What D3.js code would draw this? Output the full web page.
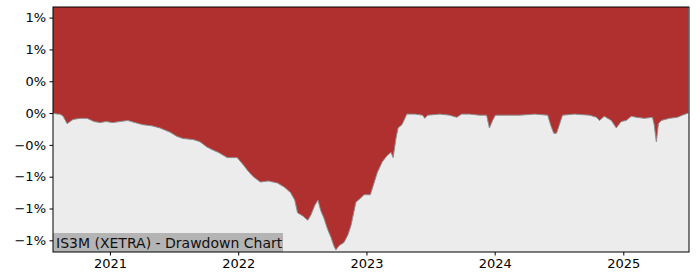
<!DOCTYPE html>
<html lang="en">
<head>
    <meta charset="UTF-8" />
    <title>IS3M Drawdown</title>
    <script src="https://d3js.org/d3.v7.min.js"></script>
    <style>
        body { margin: 0; background: #fff; }
        text { font-family: "DejaVu Sans", sans-serif; }
    </style>
</head>
<body>
<script>
    var w = 700;
    var h = 280;
    var margin = { top: 7, right: 11, bottom: 28, left: 53 };

    // drawdown series
    var dates = [
        "2020-07-23", "2020-08-04", "2020-08-12", "2020-08-21", "2020-09-01", "2020-09-18", "2020-10-08", "2020-10-28",
        "2020-11-17", "2020-12-04", "2020-12-21", "2021-01-09", "2021-01-29", "2021-02-21", "2021-03-13", "2021-04-05",
        "2021-04-30", "2021-05-23", "2021-06-21", "2021-07-11", "2021-07-28", "2021-08-26", "2021-09-14", "2021-10-04",
        "2021-10-22", "2021-11-05", "2021-12-01", "2021-12-29", "2022-01-16", "2022-01-30", "2022-02-13", "2022-03-05",
        "2022-03-28", "2022-04-23", "2022-05-13", "2022-05-30", "2022-06-11", "2022-06-19", "2022-07-04", "2022-07-18",
        "2022-07-27", "2022-08-07", "2022-08-16", "2022-08-24", "2022-09-02", "2022-09-13", "2022-09-22", "2022-09-30",
        "2022-10-06", "2022-10-15", "2022-10-29", "2022-11-09", "2022-11-18", "2022-12-02", "2022-12-16", "2022-12-25",
        "2023-01-12", "2023-02-01", "2023-02-15", "2023-03-01", "2023-03-12", "2023-03-18", "2023-03-26", "2023-04-01",
        "2023-04-12", "2023-04-26", "2023-05-19", "2023-06-10", "2023-06-16", "2023-06-24", "2023-07-29", "2023-08-26",
        "2023-09-15", "2023-09-29", "2023-10-21", "2023-11-19", "2023-12-09", "2023-12-17", "2023-12-26", "2024-01-03",
        "2024-01-29", "2024-03-12", "2024-04-24", "2024-05-31", "2024-06-08", "2024-06-17", "2024-06-25", "2024-07-04",
        "2024-07-12", "2024-08-15", "2024-09-27", "2024-10-17", "2024-10-25", "2024-11-08", "2024-11-28", "2024-12-12",
        "2024-12-26", "2025-01-09", "2025-01-24", "2025-02-07", "2025-03-02", "2025-03-25", "2025-03-30", "2025-04-05",
        "2025-04-11", "2025-04-19", "2025-05-12", "2025-06-04", "2025-06-18", "2025-07-05"
    ];
    var drawdown = [
        0.00, -0.01, -0.01, -0.03, -0.10, -0.06, -0.05, -0.05,
        -0.08, -0.09, -0.08, -0.09, -0.08, -0.07, -0.09, -0.11,
        -0.12, -0.14, -0.18, -0.22, -0.24, -0.25, -0.27, -0.32,
        -0.35, -0.37, -0.42, -0.42, -0.49, -0.55, -0.60, -0.65,
        -0.64, -0.66, -0.70, -0.75, -0.82, -0.94, -0.97, -1.01,
        -0.96, -0.87, -0.82, -0.92, -0.99, -1.10, -1.17, -1.25,
        -1.29, -1.25, -1.22, -1.15, -1.06, -0.84, -0.80, -0.77,
        -0.77, -0.56, -0.46, -0.40, -0.37, -0.42, -0.24, -0.14,
        -0.11, -0.01, -0.01, -0.02, -0.05, -0.02, -0.01, -0.02,
        -0.04, -0.01, -0.01, -0.02, -0.02, -0.14, -0.07, -0.02,
        -0.02, -0.02, -0.01, -0.02, -0.11, -0.19, -0.19, -0.10,
        -0.02, -0.01, -0.02, -0.04, -0.07, -0.03, -0.07, -0.14,
        -0.08, -0.07, -0.03, -0.04, -0.05, -0.04, -0.11, -0.27,
        -0.10, -0.07, -0.05, -0.04, -0.02, 0.00
    ];

    var yTicks = [0.9, 0.6, 0.3, 0, -0.3, -0.6, -0.9, -1.2];
    var yTickLabels = ["1%", "1%", "0%", "0%", "\u22120%", "\u22121%", "\u22121%", "\u22121%"];
    var xTicks = ["2021-01-01", "2022-01-01", "2023-01-01", "2024-01-01", "2025-01-01"];
    var title = "IS3M (XETRA) - Drawdown Chart";

    var parse = d3.timeParse("%Y-%m-%d");
    var data = dates.map(function (d, i) { return { date: parse(d), value: drawdown[i] }; });

    var xScale = d3.scaleTime()
        .domain([parse("2020-07-23"), parse("2025-07-07")])
        .range([margin.left, w - margin.right]);

    var yScale = d3.scaleLinear()
        .domain([-1.31, 1.0])
        .range([h - margin.bottom, margin.top]);

    var svg = d3.select("body")
        .append("svg")
        .attr("width", w)
        .attr("height", h);

    // plot background
    svg.append("rect")
        .attr("x", margin.left)
        .attr("y", margin.top)
        .attr("width", w - margin.left - margin.right)
        .attr("height", h - margin.top - margin.bottom)
        .attr("fill", "#ececec");

    // red fill from top of plot down to the drawdown line
    var area = d3.area()
        .x(function (d) { return xScale(d.date); })
        .y0(margin.top)
        .y1(function (d) { return yScale(d.value); });

    svg.append("path")
        .datum(data)
        .attr("d", area)
        .attr("fill", "#b03030");

    svg.append("path")
        .datum(data)
        .attr("d", d3.line()
            .x(function (d) { return xScale(d.date); })
            .y(function (d) { return yScale(d.value); }))
        .attr("fill", "none")
        .attr("stroke", "#8c8c8c")
        .attr("stroke-width", 1);

    // title box bottom left
    svg.append("rect")
        .attr("x", margin.left)
        .attr("y", h - margin.bottom - 19)
        .attr("width", 230)
        .attr("height", 19)
        .attr("fill", "#b4b4b4");

    svg.append("text")
        .attr("x", margin.left + 3)
        .attr("y", h - margin.bottom - 4)
        .attr("font-size", "14px")
        .attr("fill", "#111")
        .text(title);

    // axes
    var yAxis = d3.axisLeft(yScale)
        .tickValues(yTicks)
        .tickSize(3.5)
        .tickPadding(3.5)
        .tickFormat(function (d, i) { return yTickLabels[i]; });

    var xAxis = d3.axisBottom(xScale)
        .tickValues(xTicks.map(parse))
        .tickSize(3.5)
        .tickPadding(3.5)
        .tickFormat(d3.timeFormat("%Y"));

    var gy = svg.append("g")
        .attr("transform", "translate(" + margin.left + ",0)")
        .call(yAxis);
    var gx = svg.append("g")
        .attr("transform", "translate(0," + (h - margin.bottom) + ")")
        .call(xAxis);

    [gx, gy].forEach(function (g) {
        g.select(".domain").remove();
        g.selectAll("text")
            .attr("font-family", "DejaVu Sans")
            .attr("font-size", "13px")
            .attr("fill", "#000");
        g.selectAll("line").attr("stroke", "#000");
    });

    // frame
    svg.append("rect")
        .attr("x", margin.left)
        .attr("y", margin.top)
        .attr("width", w - margin.left - margin.right)
        .attr("height", h - margin.top - margin.bottom)
        .attr("fill", "none")
        .attr("stroke", "#000")
        .attr("stroke-width", 1);
</script>
</body>
</html>
